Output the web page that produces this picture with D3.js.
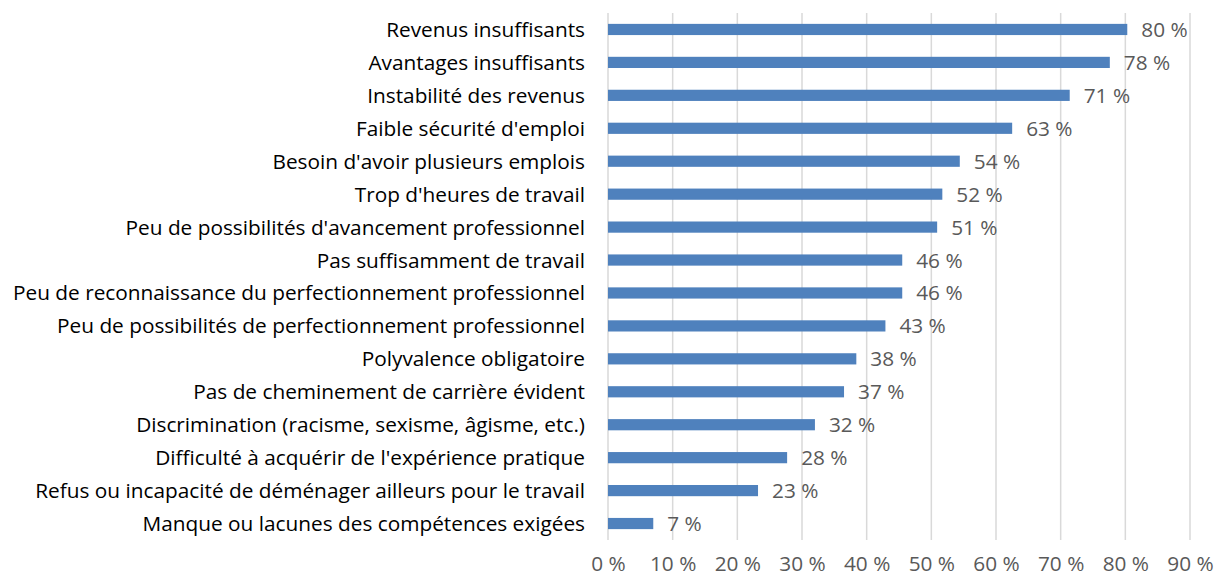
<!DOCTYPE html>
<html>
<head>
<meta charset="utf-8">
<script src="https://cdn.jsdelivr.net/npm/d3@7"></script>
<style>
  body { margin: 0; background: #fff; }
  text { font-family: "Open Sans", Lato, sans-serif; }
</style>
</head>
<body>
<svg id="chart" width="1217" height="578"></svg>
<script>
let categories = [
  "Revenus insuffisants",
  "Avantages insuffisants",
  "Instabilité des revenus",
  "Faible sécurité d'emploi",
  "Besoin d'avoir plusieurs emplois",
  "Trop d'heures de travail",
  "Peu de possibilités d'avancement professionnel",
  "Pas suffisamment de travail",
  "Peu de reconnaissance du perfectionnement professionnel",
  "Peu de possibilités de perfectionnement professionnel",
  "Polyvalence obligatoire",
  "Pas de cheminement de carrière évident",
  "Discrimination (racisme, sexisme, âgisme, etc.)",
  "Difficulté à acquérir de l'expérience pratique",
  "Refus ou incapacité de déménager ailleurs pour le travail",
  "Manque ou lacunes des compétences exigées"
];
let values = [80.3, 77.6, 71.4, 62.5, 54.4, 51.7, 50.9, 45.5, 45.5, 42.9, 38.4, 36.5, 32.0, 27.7, 23.2, 7.0];
let ticks = [0, 10, 20, 30, 40, 50, 60, 70, 80, 90];

let margin = {top: 13, right: 27, bottom: 38, left: 608};
let width = 1217, height = 578;
let fontSize = "20.8px";

let svg = d3.select("#chart");

let x = d3.scaleLinear()
    .domain([0, 90])
    .range([margin.left, width - margin.right]);

let y = d3.scaleBand()
    .domain(categories)
    .range([margin.top, height - margin.bottom])
    .paddingInner(0.66)
    .paddingOuter(0.33);

// gridlines
svg.append("g")
    .selectAll("line")
    .data(ticks)
    .join("line")
    .attr("x1", d => x(d)).attr("x2", d => x(d))
    .attr("y1", margin.top).attr("y2", height - margin.bottom)
    .attr("stroke", "#d9d9d9")
    .attr("stroke-width", 1.5);

// bars
svg.append("g")
    .selectAll("rect")
    .data(values)
    .join("rect")
    .attr("x", x(0))
    .attr("y", (d, i) => y(categories[i]))
    .attr("width", d => x(d) - x(0))
    .attr("height", y.bandwidth())
    .attr("fill", "#4f81bd");

// value labels
svg.append("g")
    .selectAll("text")
    .data(values)
    .join("text")
    .attr("x", d => x(d) + 14)
    .attr("y", (d, i) => y(categories[i]) + y.bandwidth() / 2)
    .attr("dy", "0.36em")
    .attr("fill", "#595959")
    .style("font-size", fontSize)
    .text(d => Math.round(d) + " %");

// category labels
svg.append("g")
    .selectAll("text")
    .data(categories)
    .join("text")
    .attr("x", margin.left - 23)
    .attr("y", d => y(d) + y.bandwidth() / 2)
    .attr("dy", "0.36em")
    .attr("text-anchor", "end")
    .attr("fill", "#000")
    .style("font-size", fontSize)
    .text(d => d);

// x axis
let xAxis = d3.axisBottom(x)
    .tickValues(ticks)
    .tickSize(0)
    .tickPadding(0)
    .tickFormat(d => d + " %");

let axisG = svg.append("g")
    .attr("transform", `translate(0,${height - 7})`)
    .call(xAxis);
axisG.select(".domain").remove();
axisG.selectAll("text")
    .attr("dy", 0)
    .attr("fill", "#595959")
    .style("font-family", "'Open Sans', Lato, sans-serif")
    .style("font-size", fontSize);
</script>
</body>
</html>
